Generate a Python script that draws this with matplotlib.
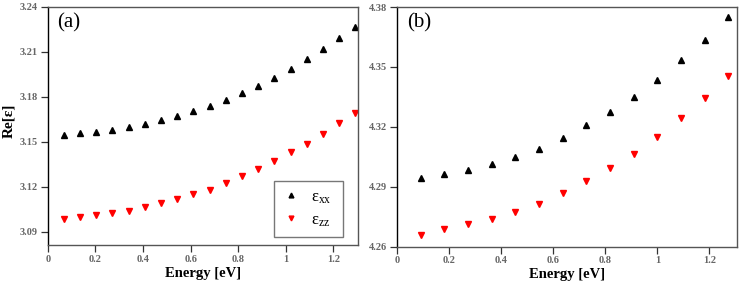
import matplotlib
matplotlib.use("Agg")
import matplotlib.pyplot as plt
from matplotlib.ticker import FuncFormatter

plt.rcParams['font.family'] = ['Liberation Serif', 'DejaVu Serif']
plt.rcParams['mathtext.fontset'] = 'custom'
plt.rcParams['mathtext.rm'] = 'Liberation Serif'
plt.rcParams['mathtext.it'] = 'Liberation Serif:italic'

# Panel (a) data
energy_a = [0.068, 0.136, 0.204, 0.272, 0.340, 0.408, 0.476, 0.544, 0.612, 0.680,
            0.748, 0.816, 0.884, 0.952, 1.020, 1.088, 1.156, 1.224, 1.292]
eps_xx_a = [3.1548, 3.1557, 3.1564, 3.1579, 3.1595, 3.1617, 3.1642, 3.1673, 3.1705, 3.1738,
            3.1778, 3.1825, 3.1875, 3.1926, 3.1989, 3.2051, 3.2118, 3.2190, 3.2266]
eps_zz_a = [3.0982, 3.1000, 3.1012, 3.1024, 3.1040, 3.1062, 3.1088, 3.1115, 3.1148, 3.1180,
            3.1222, 3.1268, 3.1318, 3.1370, 3.1428, 3.1488, 3.1552, 3.1622, 3.1695]

# Panel (b) data
energy_b = [0.0909, 0.1818, 0.2727, 0.3636, 0.4545, 0.5455, 0.6364, 0.7273, 0.8182, 0.9091,
            1.0000, 1.0909, 1.1818, 1.2727]
eps_xx_b = [4.2944, 4.2964, 4.2984, 4.3016, 4.3051, 4.3091, 4.3145, 4.3207, 4.3272, 4.3349,
            4.3435, 4.3534, 4.3637, 4.3751]
eps_zz_b = [4.2660, 4.2689, 4.2712, 4.2739, 4.2774, 4.2816, 4.2868, 4.2927, 4.2994, 4.3066,
            4.3150, 4.3244, 4.3344, 4.3455]

xticks = [0, 0.2, 0.4, 0.6, 0.8, 1.0, 1.2]
yticks_a = [3.09, 3.12, 3.15, 3.18, 3.21, 3.24]
yticks_b = [4.26, 4.29, 4.32, 4.35, 4.38]

fig = plt.figure(figsize=(7.47, 2.92), dpi=100)
W, H = 747, 292
ax_a = fig.add_axes([47.7 / W, (H - 245) / H, (358 - 47.7) / W, (245 - 7) / H])
ax_b = fig.add_axes([397 / W, (H - 246.7) / H, (736.7 - 397) / W, (246.7 - 7) / H])

tick_color = '#666666'
ms = 4.6

def style(ax, xlim, ylim, yticks, label):
    ax.set_xlim(*xlim)
    ax.set_ylim(*ylim)
    ax.set_xticks(xticks)
    ax.set_yticks(yticks)
    ax.xaxis.set_major_formatter(FuncFormatter(lambda v, p: '%g' % round(v, 2)))
    ax.yaxis.set_major_formatter(FuncFormatter(lambda v, p: '%.2f' % v))
    ax.tick_params(direction='out', length=5, width=0.9, color='#333333',
                   labelsize=7.5, labelcolor=tick_color, pad=2)
    for t in ax.get_xticklabels() + ax.get_yticklabels():
        t.set_fontweight('bold')
    ax.spines['left'].set_color('black')
    ax.spines['left'].set_linewidth(1.0)
    for s in ['bottom', 'top', 'right']:
        ax.spines[s].set_color('#555555')
        ax.spines[s].set_linewidth(1.0)
    ax.set_xlabel('Energy [eV]', fontsize=10.5, fontweight='bold', labelpad=2)
    ax.text(0.03, 0.975, label, transform=ax.transAxes, fontsize=15,
            va='top', ha='left')

ax_a.plot(energy_a, eps_xx_a, linestyle='none', marker='^', color='black', ms=ms,
          label=r'$\mathrm{\varepsilon}_{\mathrm{xx}}$', clip_on=False)
ax_a.plot(energy_a, eps_zz_a, linestyle='none', marker='v', color='red', ms=ms,
          label=r'$\mathrm{\varepsilon}_{\mathrm{zz}}$', clip_on=False)
style(ax_a, (0, 1.303), (3.081, 3.24), yticks_a, '(a)')
ax_a.set_ylabel('Re[ε]', fontsize=11, fontweight='bold')
ax_a.yaxis.set_label_coords(-0.104, 0.52)

leg = ax_a.legend(loc='lower left', bbox_to_anchor=(0.729, 0.034, 0.223, 0.227),
                  mode='expand', fontsize=12, frameon=True, fancybox=False,
                  edgecolor='#555555', handlelength=1.0, handletextpad=0.7,
                  borderpad=0.5, labelspacing=0.4, markerscale=0.75,
                  borderaxespad=0)
leg.get_frame().set_linewidth(1.0)

ax_b.plot(energy_b, eps_xx_b, linestyle='none', marker='^', color='black', ms=ms)
ax_b.plot(energy_b, eps_zz_b, linestyle='none', marker='v', color='red', ms=ms)
style(ax_b, (0, 1.305), (4.26, 4.38), yticks_b, '(b)')

fig.savefig('out.png', dpi=100)
